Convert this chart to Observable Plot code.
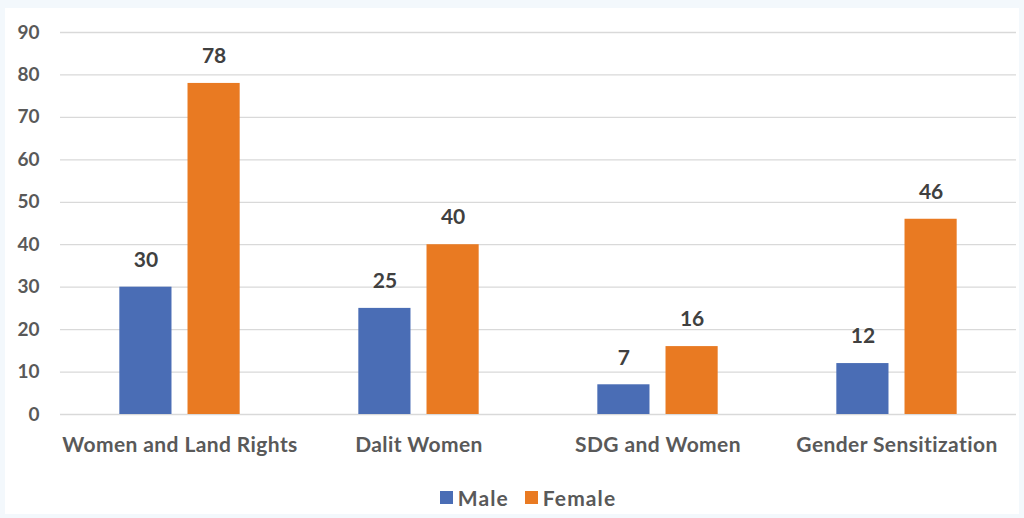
<!DOCTYPE html>
<html>
<head>
<meta charset="utf-8">
<script src="https://cdn.jsdelivr.net/npm/d3@7"></script>
<script src="https://cdn.jsdelivr.net/npm/@observablehq/plot@0.6"></script>
<style>
  html, body { margin: 0; padding: 0; background: #f3f8fc; width: 1024px; height: 518px; overflow: hidden; }
  #card { position: absolute; left: 5px; top: 8px; width: 1014px; height: 506px; background: #ffffff; }
  #legend { position: absolute; left: 16px; top: 477px; width: 1014px; display: flex; justify-content: center; gap: 16px;
    font-family: Lato, sans-serif; font-weight: bold; font-size: 21px; letter-spacing: 1.1px; color: #595959; }
  .item { display: flex; align-items: center; gap: 5px; }
  .sw { width: 13px; height: 13px; display: inline-block; }
</style>
</head>
<body>
<div id="card"><div id="chart"></div><div id="legend"></div></div>
<script>
const categories = ["Women and Land Rights", "Dalit Women", "SDG and Women", "Gender Sensitization"];
const series = ["Male", "Female"];
const maleValues = [30, 25, 7, 12];
const femaleValues = [78, 40, 16, 46];
const yTicks = [0, 10, 20, 30, 40, 50, 60, 70, 80, 90];
const colors = ["#4a6db5", "#e97a22"];

const rows = [];
categories.forEach((c, i) => {
  rows.push({category: c, series: "Male", value: maleValues[i]});
  rows.push({category: c, series: "Female", value: femaleValues[i]});
});

const chart = Plot.plot({
  width: 1014,
  height: 450,
  marginLeft: 55,
  marginRight: 3,
  marginTop: 24,
  marginBottom: 44,
  style: {fontFamily: "Lato, sans-serif", fontWeight: "bold", fontSize: "19px", color: "#595959", background: "transparent"},
  facet: {data: rows, x: "category"},
  fx: {domain: categories, padding: 0, label: null, axis: "bottom", tickSize: 0, tickPadding: 23, round: false},
  x: {domain: series, paddingInner: 0.235, paddingOuter: 0.87, axis: null, round: false},
  y: {domain: [0, 90], ticks: yTicks, tickSize: 0, tickPadding: 21, label: null},
  color: {domain: series, range: colors},
  marks: [
    Plot.ruleY(yTicks, {stroke: "#d9d9d9", strokeWidth: 1.3}),
    Plot.barY(rows, {x: "series", y: "value", fill: "series"}),
    Plot.text(rows, {x: "series", y: "value", text: d => String(d.value), dy: -27, fill: "#404040", fontSize: 21, fontWeight: "bold"})
  ]
});
chart.querySelectorAll('g[aria-label^="fx-axis"] text').forEach(t => { t.style.fontSize = "21px"; t.style.letterSpacing = "0.4px"; });
document.getElementById("chart").appendChild(chart);

const legend = document.getElementById("legend");
series.forEach((s, i) => {
  const item = document.createElement("div");
  item.className = "item";
  const sw = document.createElement("span");
  sw.className = "sw";
  sw.style.background = colors[i];
  const t = document.createElement("span");
  t.textContent = s;
  item.appendChild(sw);
  item.appendChild(t);
  legend.appendChild(item);
});
</script>
</body>
</html>
